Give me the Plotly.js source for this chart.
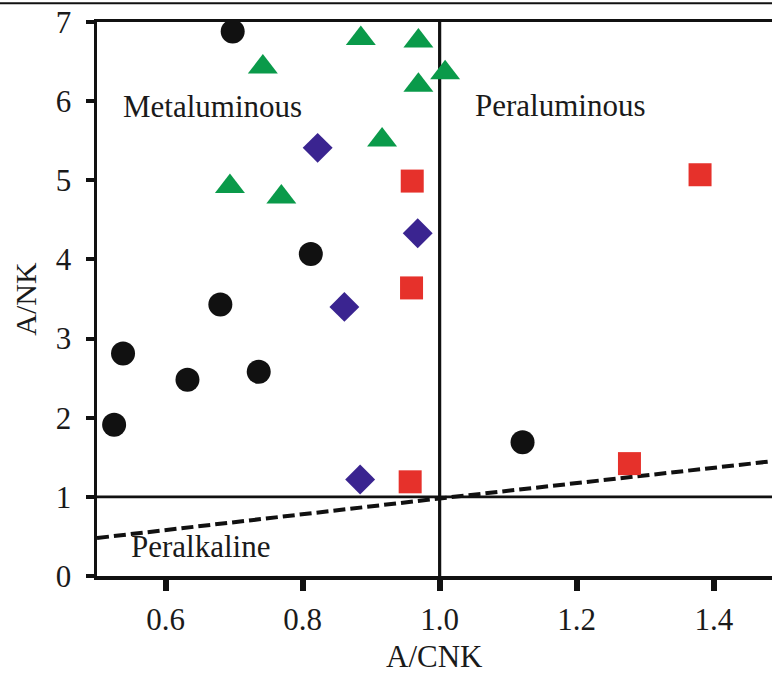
<!DOCTYPE html>
<html>
<head>
<meta charset="utf-8">
<script src="https://cdn.plot.ly/plotly-3.0.1.min.js"></script>
<style>html,body{margin:0;padding:0;background:#fff;}</style>
</head>
<body>
<div id="chart" style="width:772px;height:677px;"></div>
<script>
// Data
const circleX = [0.698, 0.812, 0.680, 0.538, 0.632, 0.736, 0.525, 1.121];
const circleY = [6.88, 4.07, 3.43, 2.81, 2.48, 2.58, 1.91, 1.69];
const triangleX = [0.742, 0.885, 0.969, 1.008, 0.969, 0.916, 0.694, 0.769];
const triangleY = [6.43, 6.79, 6.76, 6.36, 6.20, 5.51, 4.92, 4.79];
const diamondX = [0.822, 0.968, 0.861, 0.884];
const diamondY = [5.41, 4.33, 3.40, 1.22];
const squareX = [0.960, 0.959, 0.957, 1.380, 1.277];
const squareY = [4.99, 3.64, 1.19, 5.07, 1.42];

// Boundary lines
const vLineX = [1.0, 1.0];
const vLineY = [0, 7];
const hLineX = [0.5, 1.485];
const hLineY = [1, 1];
const dashX = [0.5, 1.0, 1.485];
const dashY = [0.48, 0.98, 1.45];

// Field labels
const fieldLabels = ["Metaluminous", "Peraluminous", "Peralkaline"];
const fieldX = [0.535, 1.048, 0.546];
const fieldY = [5.93, 5.95, 0.37];

const xTicks = [0.6, 0.8, 1.0, 1.2, 1.4];
const xTickText = ["0.6", "0.8", "1.0", "1.2", "1.4"];
const yTicks = [0, 1, 2, 3, 4, 5, 6, 7];
const xTitle = "A/CNK";
const yTitle = "A/NK";

const serif = "Liberation Serif, Times New Roman, serif";

const traces = [
  {x: vLineX, y: vLineY, mode: "lines", line: {color: "#111", width: 3.2}, hoverinfo: "skip"},
  {x: hLineX, y: hLineY, mode: "lines", line: {color: "#111", width: 2.8}, hoverinfo: "skip"},
  {x: dashX, y: dashY, mode: "lines", line: {color: "#111", width: 4, dash: "12px,5px"}, hoverinfo: "skip"},
  {x: circleX, y: circleY, mode: "markers", marker: {symbol: "circle", size: 24, color: "#111111"}},
  {x: triangleX, y: triangleY, mode: "markers", marker: {symbol: "triangle-up", size: 26, color: "#0a9a4a"}},
  {x: diamondX, y: diamondY, mode: "markers", marker: {symbol: "diamond", size: 23, color: "#3a2490"}},
  {x: squareX, y: squareY, mode: "markers", marker: {symbol: "square", size: 23, color: "#e6312b"}}
];

const annotations = fieldLabels.map((t, i) => ({
  text: t, x: fieldX[i], y: fieldY[i], xref: "x", yref: "y",
  xanchor: "left", yanchor: "middle", showarrow: false,
  font: {family: serif, size: 31, color: "#1a1a1a"}
}));
annotations.push({
  text: xTitle, x: 0.5, y: -0.1805, xref: "paper", yref: "paper",
  xanchor: "center", yanchor: "bottom", showarrow: false,
  font: {family: serif, size: 31, color: "#1a1a1a"}
});

const layout = {
  width: 772, height: 677,
  margin: {l: 97, r: 0, t: 22, b: 101},
  paper_bgcolor: "#fff", plot_bgcolor: "#fff",
  showlegend: false,
  font: {family: serif, color: "#1a1a1a"},
  xaxis: {
    range: [0.5, 1.485], tickvals: xTicks, ticktext: xTickText,
    ticks: "outside", ticklen: 11, tickwidth: 6, tickcolor: "#111",
    showline: true, linewidth: 3.5, linecolor: "#111", mirror: true,
    showgrid: false, zeroline: false,
    tickfont: {family: serif, size: 31, color: "#1a1a1a"},
    ticklabelstandoff: 2,
    automargin: false
  },
  yaxis: {
    range: [0, 7], tickvals: yTicks,
    ticks: "outside", ticklen: 8, tickwidth: 4, tickcolor: "#111",
    showline: true, linewidth: 3.5, linecolor: "#111", mirror: false,
    showgrid: false, zeroline: false,
    tickfont: {family: serif, size: 31, color: "#1a1a1a"},
    ticklabelstandoff: 8,
    title: {text: yTitle, font: {family: serif, size: 30, color: "#1a1a1a"}, standoff: 11},
    automargin: false
  },
  annotations: annotations,
  shapes: [
    {type: "line", xref: "paper", yref: "paper", x0: -0.2, x1: 1.01, y0: 1.034, y1: 1.034,
     line: {color: "#111", width: 2}}
  ]
};

Plotly.newPlot("chart", traces, layout, {staticPlot: true, displayModeBar: false});
</script>
</body>
</html>
